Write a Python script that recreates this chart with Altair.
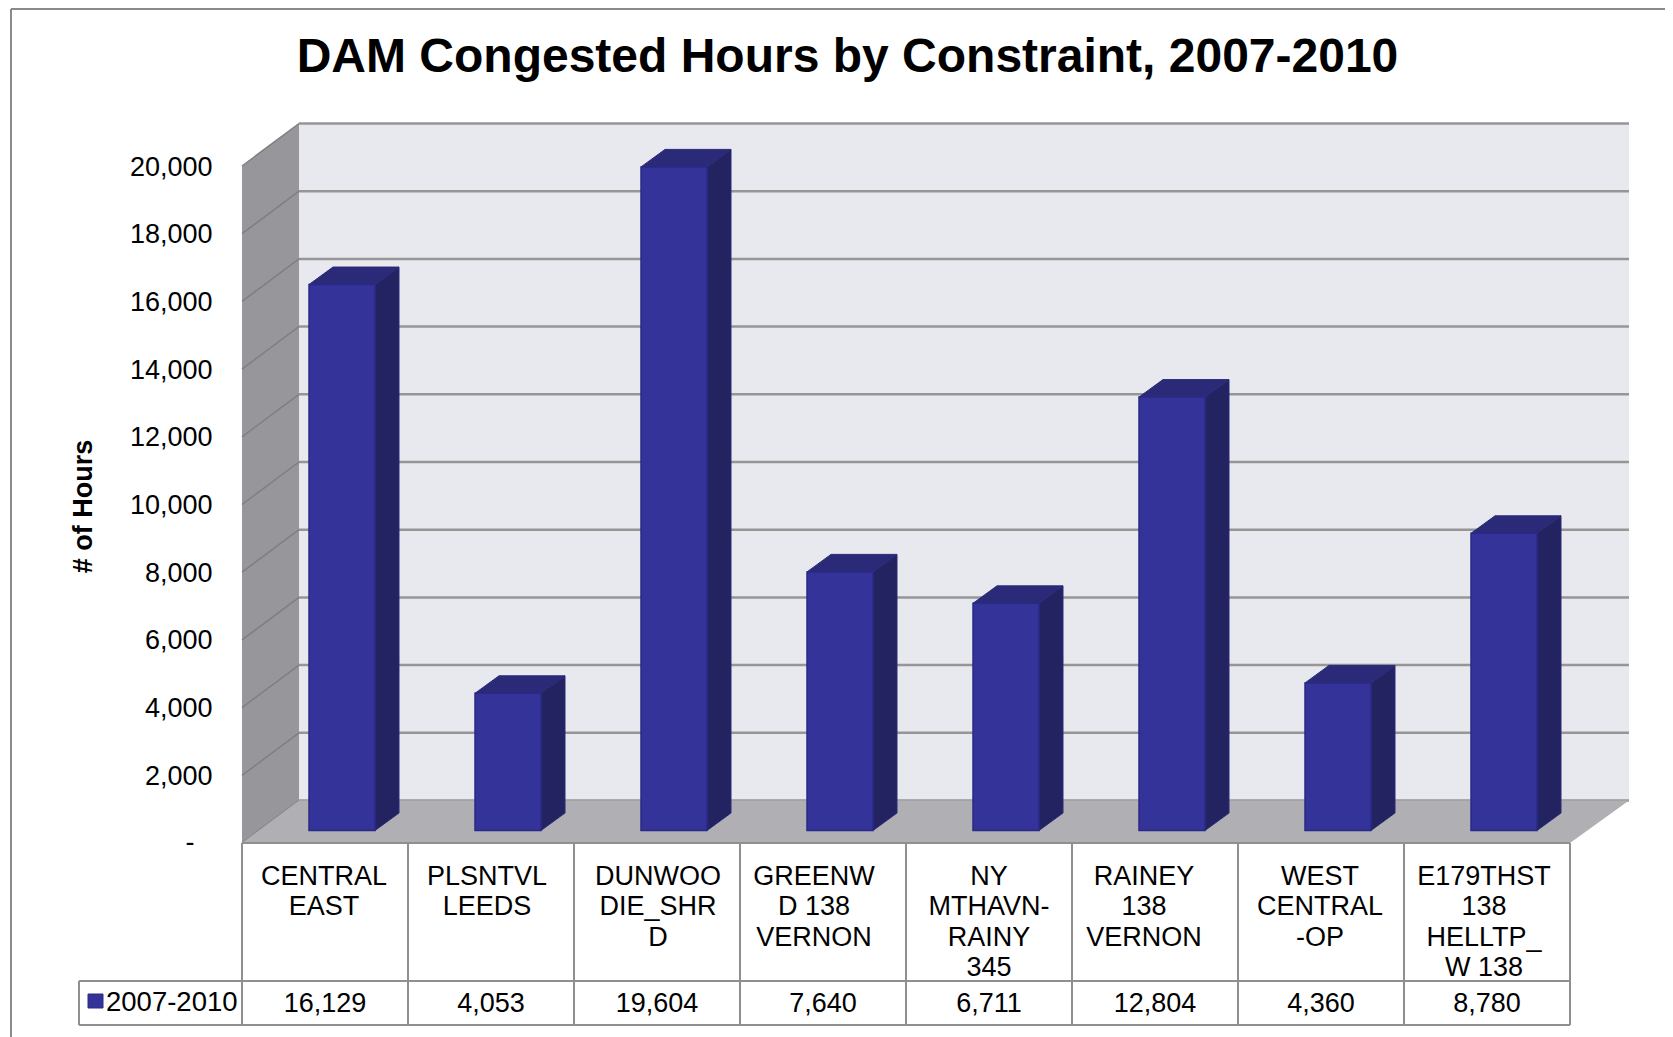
import altair as alt
import pandas as pd

# ---- values ----
CATEGORIES = ["CENTRAL\nEAST", "PLSNTVL\nLEEDS", "DUNWOO\nDIE_SHR\nD", "GREENW\nD 138\nVERNON",
              "NY\nMTHAVN-\nRAINY\n345", "RAINEY\n138\nVERNON", "WEST\nCENTRAL\n-OP",
              "E179THST\n138\nHELLTP_\nW 138"]
HOURS = [16129, 4053, 19604, 7640, 6711, 12804, 4360, 8780]
SERIES = "2007-2010"
TICKS = list(range(0, 20001, 2000))
TITLE = "DAM Congested Hours by Constraint, 2007-2010"
YTITLE = "# of Hours"

# ---- layout ----
W, H = 1657, 1029
X0, Y0 = 242, 843       # page position of category 0 / value 0 on the front plane
CAT = 166.0             # px per category
PX = 0.03385            # px per hour
FX = lambda p: (p - X0) / CAT
FY = lambda p: (Y0 - p) / PX
DX, DY = 57 / CAT, 42.5 / PX            # depth of the box
BACK_R = 8 + 59 / CAT                   # right end of the back wall
BAR_L, BAR_W = 67 / CAT, 66 / CAT       # bar front face
BDX, BDY = 24 / CAT, 17.5 / PX          # depth of a bar
BASE = 12.5 / PX
NUDGE = [-1, -4, 1, -9, 0, -11, -1, -3]  # px shift of wrapped labels in their cells
N = len(CATEGORIES)
FONT = "Liberation Sans"
GRID = "#969696"
TABLE = "#8f8f8f"

xs = alt.Scale(domain=[FX(8), FX(W + 8)], range=[0, W], nice=False, zero=False)
ys = alt.Scale(domain=[FY(H + 8), FY(8)], range=[H, 0], nice=False, zero=False)
YAXIS = alt.Axis(
    values=TICKS, domain=False, ticks=False, grid=False,
    labelExpr="datum.value == 0 ? '' : format(datum.value, ',')",
    labelFont=FONT, labelFontSize=27, labelColor="#000000", labelPadding=0, labelOffset=1,
    offset=-204, title=YTITLE, titleFont=FONT, titleFontSize=27, titleFontWeight="bold",
    titleColor="#000000", titleX=-115, titleY=498, titleAngle=270, titleAlign="center")
X = lambda f="x": alt.X(f"{f}:Q", scale=xs, axis=None)
Y = lambda f="y": alt.Y(f"{f}:Q", scale=ys, axis=YAXIS, stack=None)


def area_layer(rows, fill, stroke=None):
    """rows: list of polygons, each a list of (x, lower, upper)."""
    data = [dict(id=i, x=p[0], y=p[1], y2=p[2]) for i, poly in enumerate(rows) for p in poly]
    kw = dict(stroke=stroke, strokeWidth=1) if stroke else {}
    return alt.Chart(pd.DataFrame(data)).mark_area(color=fill, interpolate="linear", **kw).encode(
        x=X(), y=Y(), y2="y2:Q", detail="id:N")


def lines_layer(rows, color, width):
    df = pd.DataFrame(rows, columns=["x", "y", "x2", "y2"])
    return alt.Chart(df).mark_rule(color=color, strokeWidth=width).encode(
        x=X(), y=Y(), x2="x2:Q", y2="y2:Q")


back = alt.Chart(pd.DataFrame([dict(x=DX, x2=BACK_R, y=DY, y2=20000 + DY)])).mark_rect(color="#E8E9EE").encode(
    x=X(), x2="x2:Q", y=Y(), y2="y2:Q")
grid_back = lines_layer([(DX, t + DY, BACK_R, t + DY) for t in TICKS], GRID, 2.5)
left_wall = area_layer([[(0, 0, 20000), (DX, DY, 20000 + DY)]], "#97979B")
floor = area_layer([[(0, 0, 0), (DX, 0, DY), (N, 0, DY), (BACK_R, DY, DY)]], "#B0AFB3")
grid_wall = alt.Chart(pd.DataFrame(
    [dict(id=t, o=0, x=0, y=t) for t in TICKS] + [dict(id=t, o=1, x=DX, y=t + DY) for t in TICKS]
)).mark_line(color="#7F7F83", strokeWidth=1.5).encode(x=X(), y=Y(), detail="id:N", order="o:Q")

x_l = [i + BAR_L for i in range(N)]
x_r = [x + BAR_W for x in x_l]
fronts = alt.Chart(pd.DataFrame(dict(x=x_l, x2=x_r, y=[BASE] * N, y2=[BASE + v for v in HOURS]))).mark_rect(
    color="#333399", stroke="#2A2A86", strokeWidth=1.5).encode(x=X(), x2="x2:Q", y=Y(), y2="y2:Q")
sides = area_layer([[(r, BASE, BASE + v), (r + BDX, BASE + BDY, BASE + v + BDY)]
                    for r, v in zip(x_r, HOURS)], "#232361", "#2A2A78")
tops = area_layer([[(l, BASE + v, BASE + v), (l + BDX, BASE + v, BASE + v + BDY),
                    (r, BASE + v, BASE + v + BDY), (r + BDX, BASE + v + BDY, BASE + v + BDY)]
                   for l, r, v in zip(x_l, x_r, HOURS)], "#2A2A78", "#2A2A78")

table = lines_layer(
    [(i, 0, i, FY(1025)) for i in range(N + 1)]
    + [(0, 0, N, 0), (FX(79), FY(981), N, FY(981)), (FX(79), FY(1025), N, FY(1025)),
       (FX(79), FY(981), FX(79), FY(1025))], TABLE, 2)
border = lines_layer([(FX(11), FY(9), FX(11), FY(1037)), (FX(11), FY(9), FX(1673), FY(9))], "#8a8a8a", 2)

zero_label = alt.Chart(pd.DataFrame(dict(x=[FX(190)], y=[0], label=["-"]))).mark_text(
    font=FONT, fontSize=27, color="#000000", baseline="middle", align="center").encode(
    x=X(), y=Y(), text="label:N")
cat_df = pd.DataFrame(dict(label=CATEGORIES, x=[i + 0.5 + NUDGE[i] / CAT for i in range(N)], y=[FY(864)] * N))
cat_text = alt.Chart(cat_df).mark_text(font=FONT, fontSize=27, color="#000000", baseline="top",
                                       align="center", lineBreak="\n", lineHeight=30.3).encode(
    x=X(), y=Y(), text="label:N")
val_df = pd.DataFrame(dict(x=[i + 0.5 for i in range(N)], y=[FY(1004)] * N,
                           label=[f"{v:,}" for v in HOURS]))
val_text = alt.Chart(val_df).mark_text(font=FONT, fontSize=27, color="#000000", baseline="middle",
                                       align="center").encode(x=X(), y=Y(), text="label:N")
leg_text = alt.Chart(pd.DataFrame(dict(x=[FX(106)], y=[FY(1003)], label=[SERIES]))).mark_text(
    font=FONT, fontSize=27.5, color="#000000", baseline="middle", align="left").encode(
    x=X(), y=Y(), text="label:N")
swatch = alt.Chart(pd.DataFrame(dict(x=[FX(88)], x2=[FX(103)], y=[FY(994)], y2=[FY(1008)]))).mark_rect(
    color="#333399", stroke="#2A2A86", strokeWidth=1).encode(x=X(), x2="x2:Q", y=Y(), y2="y2:Q")

chart = alt.layer(
    border, back, grid_back, left_wall, grid_wall, floor,
    sides, tops, fronts, table, zero_label, cat_text, val_text, swatch, leg_text,
).properties(
    width=W, height=H, padding=0,
    autosize=alt.AutoSizeParams(type="none"),
    title=alt.TitleParams(TITLE, font=FONT, fontSize=48, fontWeight="bold", color="#000000",
                          anchor="middle", frame="group", dx=11, dy=74, offset=0),
).configure_view(strokeWidth=0)

chart.save("out.html", embed_options={"renderer": "svg", "actions": False})
